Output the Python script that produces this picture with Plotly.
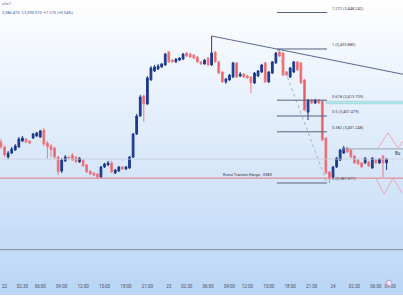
import plotly.graph_objects as go

# ---- data ----
opens = [3397.2,3395.3,3391.3,3392.9,3394.1,3395.3,3397.6,3398.4,3397.6,3398.8,
3399.6,3399.2,3402.0,3396.8,3395.7,3394.9,3391.3,3385.8,3389.8,3391.3,
3392.1,3391.3,3389.4,3390.1,3388.2,3385.8,3385.0,3384.6,3383.4,3387.4,
3388.2,3389.0,3385.0,3385.8,3387.4,3386.6,3387.0,3391.3,3400.4,3407.5,
3415.4,3412.2,3421.7,3425.2,3426.0,3426.8,3427.6,3432.7,3429.5,3428.8,
3429.5,3429.9,3432.3,3431.9,3431.5,3430.7,3428.8,3428.0,3430.3,3427.6,
3432.7,3428.8,3424.8,3420.9,3421.7,3422.8,3428.4,3423.2,3424.0,3423.2,
3422.8,3420.5,3423.2,3424.8,3428.4,3420.9,3424.4,3428.4,3432.7,3432.3,
3424.8,3422.8,3424.8,3428.8,3428.4,3421.7,3409.0,3413.8,3412.6,3413.8,
3413.4,3398.8,3385.4,3383.4,3387.4,3390.1,3392.9,3394.9,3394.1,3391.7,
3390.1,3389.0,3389.0,3389.4,3387.0,3390.1,3389.0,3391.7,3389.0]
highs = [3398.4,3395.7,3393.7,3395.3,3396.4,3399.2,3399.6,3398.8,3398.0,3400.8,
3401.2,3402.0,3402.7,3397.6,3396.4,3395.3,3391.7,3390.9,3392.1,3391.7,
3392.9,3391.7,3391.3,3390.5,3388.6,3386.2,3385.4,3385.0,3387.8,3389.0,
3389.8,3389.8,3386.6,3387.8,3387.8,3387.8,3391.7,3400.8,3408.3,3415.8,
3415.8,3423.2,3427.2,3427.6,3428.0,3428.4,3432.3,3433.1,3429.9,3430.3,
3430.7,3432.3,3432.7,3432.3,3431.9,3431.1,3429.1,3429.9,3430.7,3439.0,
3433.1,3429.1,3425.2,3422.5,3424.0,3428.8,3428.8,3424.8,3424.4,3423.6,
3423.2,3424.8,3425.6,3428.0,3428.8,3425.2,3429.1,3432.7,3433.9,3432.7,
3425.2,3426.8,3429.1,3429.1,3428.8,3422.1,3414.2,3414.2,3414.2,3414.2,
3413.8,3399.2,3385.8,3387.8,3391.3,3394.5,3395.7,3395.3,3394.5,3392.1,
3390.5,3389.4,3391.3,3389.8,3391.3,3390.5,3390.9,3392.1,3390.9]
lows = [3394.5,3391.3,3390.5,3392.5,3393.7,3394.9,3397.2,3396.8,3396.4,3398.4,
3399.2,3398.8,3395.7,3390.5,3391.3,3390.5,3384.2,3385.0,3389.4,3390.5,
3389.8,3389.0,3389.0,3387.4,3385.0,3384.2,3383.8,3382.6,3383.0,3387.0,
3387.8,3385.0,3384.6,3385.4,3386.2,3386.2,3386.6,3390.9,3400.0,3407.1,
3405.1,3411.8,3421.3,3424.8,3425.6,3426.4,3427.2,3428.4,3428.4,3428.4,
3429.1,3429.5,3430.7,3430.3,3429.9,3428.4,3427.6,3427.6,3427.2,3427.2,
3428.4,3424.0,3420.5,3420.1,3421.3,3422.5,3422.5,3422.8,3422.5,3422.1,
3416.5,3420.1,3422.8,3424.4,3420.5,3420.5,3424.0,3428.0,3430.7,3423.2,
3423.2,3422.5,3424.4,3425.2,3420.1,3409.4,3405.9,3412.2,3412.2,3412.2,
3397.6,3384.6,3381.1,3383.0,3387.0,3389.8,3392.5,3392.9,3390.9,3388.6,
3388.2,3387.0,3388.6,3387.4,3386.6,3388.6,3388.6,3383.4,3386.2]
closes = [3395.3,3392.1,3392.9,3394.5,3395.7,3398.4,3398.8,3397.2,3396.8,3400.4,
3400.8,3401.6,3396.4,3395.3,3394.1,3391.3,3385.4,3390.1,3391.3,3390.9,
3390.1,3389.4,3390.9,3387.8,3385.4,3384.6,3384.2,3383.4,3387.4,3388.6,
3389.0,3385.4,3386.2,3387.4,3386.6,3387.4,3391.3,3400.4,3407.5,3415.0,
3412.2,3422.5,3426.4,3426.8,3427.2,3428.0,3431.9,3428.8,3428.8,3429.9,
3430.3,3431.9,3431.1,3430.7,3430.3,3428.8,3428.0,3429.5,3427.6,3432.3,
3428.8,3424.4,3420.9,3422.1,3423.6,3428.4,3422.8,3424.0,3422.8,3422.5,
3420.5,3424.4,3425.2,3427.6,3420.9,3424.8,3428.8,3432.3,3431.1,3423.6,
3423.6,3426.4,3428.8,3425.6,3420.5,3409.8,3413.8,3412.6,3413.8,3412.6,
3398.0,3385.0,3383.0,3387.4,3390.9,3394.1,3394.9,3393.3,3391.3,3389.0,
3388.6,3387.4,3390.9,3387.8,3390.9,3389.0,3390.5,3389.0,3390.5]
candle_idx = list(range(len(opens)))

tick_pos = [1, 6, 11, 17, 23, 29, 35, 41, 47, 52, 58, 64, 69, 75, 81, 87, 93, 99, 105, 109]
tick_text = ["22", "02:30", "06:00", "09:00", "12:00", "15:00", "18:00", "21:00",
             "23", "02:30", "06:00", "09:00", "12:00", "15:00", "18:00", "21:00",
             "24", "02:30", "06:00", "09:00"]

fib_ratios = [1.272, 1, 0.618, 0.5, 0.382, 0]
fib_low = 3381.077
fib_high = 3433.880
fib_start, fib_end = 77.3, 91.3

key_level = 3383.0
key_label = "Kunci Transisi Harga - 3383"
gray_level = 3390.5
bottom_level = 3354.8
buy_level = 3394.5
buy_label = "Bu"
teal_zone = (3412.3, 3413.3)
trend_x = [59, 113]
trend_y = [3439.0, 3423.8]
zig_up_x = [105.6, 108.4, 111.2, 112.6]
zig_up_y = [3394.9, 3400.8, 3394.9, 3397.6]
zig_dn_x = [105.0, 107.3, 109.8, 112.3]
zig_dn_y = [3383.0, 3376.7, 3383.0, 3377.1]

X_RANGE = [-0.28, 112.6]
Y_RANGE = [3342.86, 3453.18]

fig = go.Figure()
fig.add_trace(go.Candlestick(
    x=candle_idx, open=opens, high=highs, low=lows, close=closes,
    increasing=dict(line=dict(color="#1e3a8c", width=1), fillcolor="#1e3a8c"),
    decreasing=dict(line=dict(color="#ee7d83", width=1), fillcolor="#e8545d"),
    whiskerwidth=0, showlegend=False, hoverinfo="skip"))

# trend line & zigzags
fig.add_trace(go.Scatter(x=trend_x, y=trend_y, mode="lines",
                         line=dict(color="#5b6890", width=1), showlegend=False, hoverinfo="skip"))
fig.add_trace(go.Scatter(x=zig_up_x, y=zig_up_y, mode="lines",
                         line=dict(color="#ee9aa0", width=0.8), showlegend=False, hoverinfo="skip"))
fig.add_trace(go.Scatter(x=zig_dn_x, y=zig_dn_y, mode="lines",
                         line=dict(color="#ee9aa0", width=0.8), showlegend=False, hoverinfo="skip"))
# fib dashed diagonal
fig.add_trace(go.Scatter(x=[fib_start, fib_end], y=[fib_high, fib_low], mode="lines",
                         line=dict(color="#9aa3b0", width=0.8, dash="dot"), showlegend=False, hoverinfo="skip"))

shapes = []
# gradient background (paper coords; plot area = 280px)
PH = 280.0
n = 60
for k in range(n):
    p0 = 295.0 * k / n
    p1 = 295.0 * (k + 1) / n
    t = (p0 + p1) / 2 / 295.0
    r = int(255 + (186 - 255) * t)
    g = int(255 + (214 - 255) * t)
    b = int(255 + (246 - 255) * t)
    shapes.append(dict(type="rect", xref="paper", yref="paper", x0=0, x1=1,
                       y0=(PH - p1) / PH, y1=(PH - p0) / PH + 0.002,
                       fillcolor=f"rgb({r},{g},{b})", line=dict(width=0), layer="below"))

def hline(y, color, width=1, x0=X_RANGE[0] - 1, x1=X_RANGE[1] + 1, dash="solid"):
    shapes.append(dict(type="line", xref="x", yref="y", x0=x0, x1=x1, y0=y, y1=y,
                       line=dict(color=color, width=width, dash=dash)))

hline(gray_level, "#c9cfd8", 0.8)
hline(bottom_level, "#7d8592", 1)
hline(key_level, "#e27a82", 1)
hline(buy_level, "#9aa3b0", 1, x0=95.8)
shapes.append(dict(type="rect", xref="x", yref="y", x0=91, x1=X_RANGE[1] + 1,
                   y0=teal_zone[0], y1=teal_zone[1], fillcolor="#b5e4e8",
                   line=dict(color="#8fd3d9", width=0.6)))
annotations = []
for r in fib_ratios:
    lvl = fib_low + r * (fib_high - fib_low)
    hline(lvl, "#56627f", 1, x0=fib_start, x1=fib_end)
    annotations.append(dict(x=fib_end + 0.9, y=lvl + 1.6, xref="x", yref="y",
                            text=f"{r:g} ({lvl:,.3f})", showarrow=False, xanchor="left",
                            yanchor="middle", font=dict(size=4, color="#3b4358",
                                                         family="Roboto")))

# event icon
shapes.append(dict(type="circle", xref="x", yref="paper", x0=107.9, x1=109.5,
                   y0=-0.022, y1=-0.001, line=dict(color="#c77fbf", width=0.8),
                   fillcolor="rgba(255,255,255,0.6)"))

annotations.append(dict(x=61.5, y=key_level + 1.3, xref="x", yref="y", text=key_label,
                        showarrow=False, xanchor="left", yanchor="middle",
                        font=dict(size=4, color="#2e3445", family="Roboto")))
annotations.append(dict(x=1.0, y=buy_level - 1.7, xref="paper", yref="y", text=buy_label,
                        showarrow=False, xanchor="right", yanchor="middle", xshift=-0.5,
                        font=dict(size=4.5, color="#2e3445", family="Roboto")))
annotations.append(dict(x=0, y=(PH - 4) / PH, xref="paper", yref="paper", text="ult=7",
                        showarrow=False, xanchor="left", yanchor="middle",
                        font=dict(size=4, color="#6a7080", family="Roboto")))
annotations.append(dict(x=0, y=(PH - 12.5) / PH, xref="paper", yref="paper",
                        text="3,386.475  C3,390.510  +1.275 (+0.04%)",
                        showarrow=False, xanchor="left", yanchor="middle",
                        font=dict(size=4, color="#3d5a9e", family="Roboto")))

fig.update_layout(
    width=403, height=303,
    margin=dict(l=0, r=0, t=0, b=23),
    paper_bgcolor="white", plot_bgcolor="rgba(0,0,0,0)",
    shapes=shapes, annotations=annotations,
    xaxis=dict(range=X_RANGE, rangeslider=dict(visible=False), showgrid=False,
               zeroline=False, showline=False, tickmode="array", tickvals=tick_pos,
               ticktext=tick_text, ticks="", ticklabelstandoff=2,
               tickfont=dict(size=4.5, color="#4a505e", family="Roboto")),
    yaxis=dict(range=Y_RANGE, showgrid=False, zeroline=False, showline=False,
               showticklabels=False, ticks=""),
    showlegend=False,
)

fig.write_html("out.html")
